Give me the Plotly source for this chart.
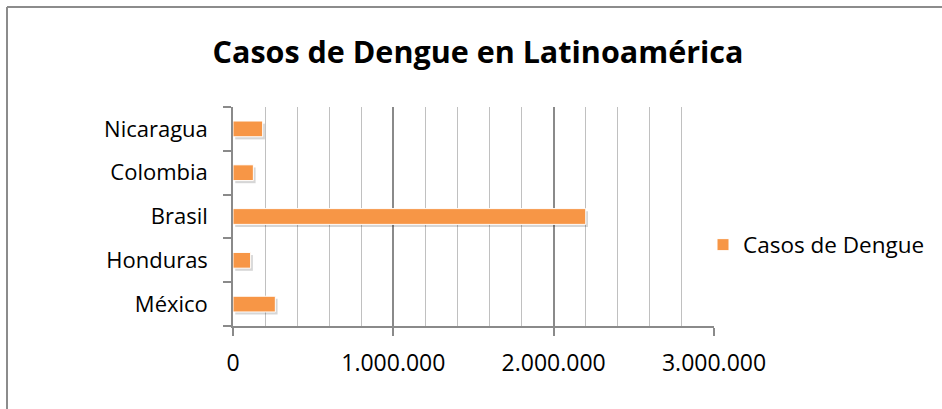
import plotly.graph_objects as go

paises = ["México", "Honduras", "Brasil", "Colombia", "Nicaragua"]
casos = [264000, 110000, 2200000, 127000, 185000]
ticks_x = [0, 1000000, 2000000, 3000000]
serie = "Casos de Dengue"
titulo = "Casos de Dengue en Latinoamérica"

W, H = 942, 409
L, R, T, B = 233, 228, 107, 83
pw, ph = W - L - R, H - T - B
BAR_W = 0.36

def px_x(x):
    return (x - L) / pw

def px_y(y):
    return (H - B - y) / ph

fig = go.Figure()
# soft shadow under the bars
fig.add_trace(go.Bar(
    y=paises, x=casos, orientation="h", name=serie,
    width=BAR_W, offset=-BAR_W / 2 - 0.06, base=14000,
    marker=dict(color="rgba(0,0,0,0.16)", line=dict(width=0)),
    showlegend=False, hoverinfo="skip",
))
fig.add_trace(go.Bar(
    y=paises, x=casos, orientation="h", name=serie,
    width=BAR_W, offset=-BAR_W / 2,
    marker=dict(color="#F79646", line=dict(color="#FFFFFF", width=1)),
    showlegend=True,
))

font = "Open Sans, Noto Sans, sans-serif"
fig.update_layout(
    width=W, height=H,
    margin=dict(l=L, r=R, t=T, b=B, autoexpand=False),
    paper_bgcolor="white", plot_bgcolor="white",
    separators=",.",
    barmode="overlay",
    title=dict(text="<b>" + titulo + "</b>", x=478 / W, xref="container", xanchor="center",
               y=1 - 52 / H, yref="container", yanchor="middle",
               font=dict(family=font, size=30.5, color="black")),
    font=dict(family=font, size=20, color="black"),
    showlegend=True,
    legend=dict(x=px_x(703), y=px_y(245), xanchor="left", yanchor="middle",
                font=dict(family=font, size=22.5, color="black"),
                itemwidth=30, bgcolor="rgba(0,0,0,0)"),
)
fig.update_xaxes(
    range=[0, 3000000], tickvals=ticks_x, tickformat=",d",
    showline=True, linecolor="#8A8A8A", linewidth=1.5,
    ticks="outside", ticklen=8, tickcolor="#8A8A8A", tickwidth=1.5,
    showgrid=True, gridcolor="#8A8A8A", gridwidth=1.5,
    minor=dict(dtick=200000, showgrid=True, gridcolor="#C0C0C0", gridwidth=1.2),
    ticklabelstandoff=8, zeroline=False,
    tickfont=dict(family=font, size=23, color="black"),
)
fig.update_yaxes(
    categoryorder="array", categoryarray=paises,
    showline=True, linecolor="#8A8A8A", linewidth=1.5,
    ticks="outside", ticklen=8, tickcolor="#8A8A8A", tickwidth=1.5,
    tickson="boundaries",
    showgrid=False, ticklabelstandoff=19,
    tickfont=dict(family=font, size=22, color="black"),
)
# outer chart border (top and left visible)
fig.add_shape(type="line", xref="paper", yref="paper",
              x0=px_x(7), y0=px_y(7), x1=px_x(W + 5), y1=px_y(7),
              line=dict(color="#8C8C8C", width=2))
fig.add_shape(type="line", xref="paper", yref="paper",
              x0=px_x(7), y0=px_y(7), x1=px_x(7), y1=px_y(H + 5),
              line=dict(color="#8C8C8C", width=2))

fig.write_html("out.html", config={"displayModeBar": False},
               post_script="document.body.style.margin='0';")
